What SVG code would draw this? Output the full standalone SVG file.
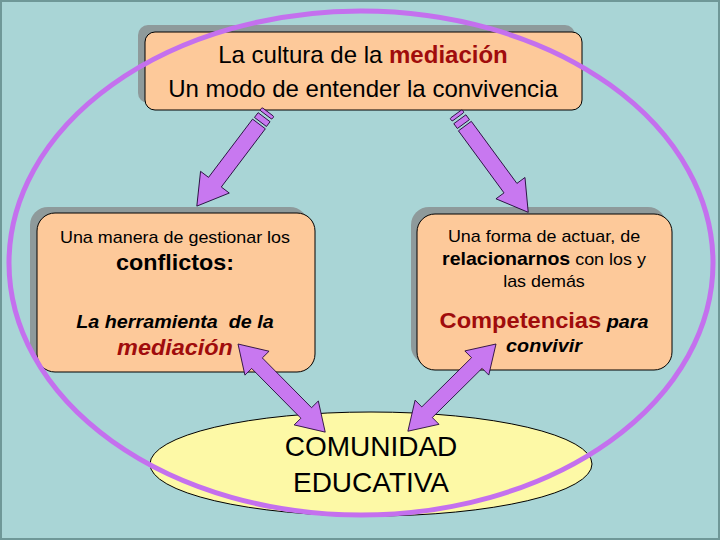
<svg xmlns="http://www.w3.org/2000/svg" width="720" height="540" viewBox="0 0 720 540">
<style>
.bg{fill:#a9d5d6}
.shadow{fill:#8e9a9b}
.box{fill:#fdc99a;stroke:#000;stroke-width:1}
.arrow{fill:#c878f0;stroke:#1a0030;stroke-width:0.8;stroke-linejoin:miter}
.t{font-family:"Liberation Sans",Arial,sans-serif;fill:#000;text-anchor:middle}
.b{font-weight:bold}
.i{font-style:italic}
.red{fill:#a00c0c}
</style>
<rect class="bg" x="0" y="0" width="720" height="540"/>
<rect x="1" y="1" width="718" height="538" fill="none" stroke="#6f9898" stroke-width="2"/>

<g id="node-top">
  <rect class="shadow" x="138" y="25" width="437" height="78" rx="10"/>
  <rect class="box" x="145" y="32" width="437" height="78" rx="10"/>
  <text class="t" x="363" y="63" font-size="24">La cultura de la <tspan class="b red">mediación</tspan></text>
  <text class="t" x="363" y="97" font-size="24">Un modo de entender la convivencia</text>
</g>

<g id="node-left">
  <rect class="shadow" x="30" y="207" width="278" height="159" rx="18"/>
  <rect class="box" x="37" y="213" width="278" height="159" rx="18"/>
  <g transform="matrix(1.08,0,0,1,-14,0)">
    <text class="t" x="175" y="243" font-size="16.6">Una manera de gestionar los</text>
    <text class="t b" x="175" y="270" font-size="21.6">conflictos:</text>
    <text class="t b i" x="175" y="328" font-size="18.3">La herramienta&#160; de la</text>
    <text class="t b i red" x="175" y="355" font-size="21.7">mediación</text>
  </g>
</g>

<g id="node-right">
  <rect class="shadow" x="411" y="207" width="255" height="157" rx="18"/>
  <rect class="box" x="417" y="214" width="255" height="156" rx="18"/>
  <g transform="matrix(1.08,0,0,1,-43.52,0)">
    <text class="t" x="544" y="242" font-size="16.6">Una forma de actuar, de</text>
    <text class="t" x="544" y="265" font-size="16.6"><tspan class="b" font-size="18.1">relacionarnos</tspan> con los y</text>
    <text class="t" x="544" y="287" font-size="16.6">las demás</text>
    <text class="t" x="544" y="328" font-size="18.3"><tspan class="b red" font-size="21.9">Competencias</tspan> <tspan class="b i">para</tspan></text>
    <text class="t b i" x="544" y="352" font-size="18.3">convivir</text>
  </g>
</g>

<g id="node-bottom">
  <ellipse cx="371" cy="464" rx="221" ry="52" fill="#fdf9a6" stroke="#000" stroke-width="1"/>
  <text class="t" x="371" y="456" font-size="28">COMUNIDAD</text>
  <text class="t" x="371" y="492" font-size="28">EDUCATIVA</text>
</g>

<g id="connectors">
  <g transform="translate(268,112) rotate(127.1)">
    <rect class="arrow" x="0" y="-7.5" width="3.5" height="15" rx="1.2"/>
    <rect class="arrow" x="6.5" y="-7.5" width="6" height="15"/>
    <path class="arrow" d="M15,-8 L88,-8 L88,-18 L118,0 L88,18 L88,8 L15,8 Z"/>
  </g>
  <g transform="translate(456,114) rotate(53.7)">
    <rect class="arrow" x="0" y="-7.5" width="3.5" height="15" rx="1.2"/>
    <rect class="arrow" x="6.5" y="-7.5" width="6" height="15"/>
    <path class="arrow" d="M15,-8 L92,-8 L92,-18 L122,0 L92,18 L92,8 L15,8 Z"/>
  </g>
  <path class="arrow" transform="translate(238,344) rotate(45.3)" d="M0,0 L27,-17 L27,-7.5 L97,-7.5 L97,-17 L124,0 L97,17 L97,7.5 L27,7.5 L27,17 Z"/>
  <path class="arrow" transform="translate(496,344) rotate(135.3)" d="M0,0 L27,-17 L27,-7.5 L97,-7.5 L97,-17 L124,0 L97,17 L97,7.5 L27,7.5 L27,17 Z"/>
</g>

<g id="frame-ellipse">
  <ellipse cx="361" cy="263" rx="352" ry="252" fill="none" stroke="#c470ee" stroke-width="5"/>
</g>
</svg>
